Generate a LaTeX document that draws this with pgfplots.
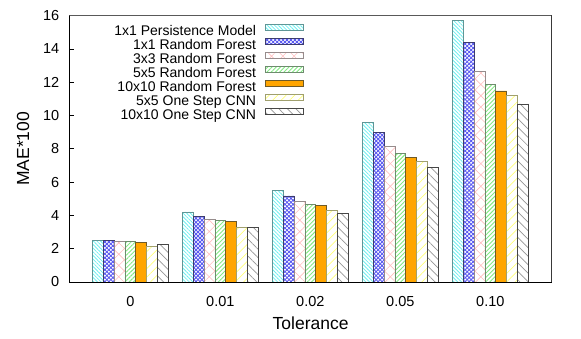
\documentclass[border=0pt]{standalone}
\usepackage{fontspec}
\setmainfont{Liberation Sans}
\usepackage{pgfplots}
\usepackage{pgfplotstable}
\pgfplotsset{compat=1.18}
\usetikzlibrary{patterns.meta}

\definecolor{cyanl}{RGB}{110,240,240}
\definecolor{cyanb}{RGB}{95,150,150}
\definecolor{bluel}{RGB}{90,90,240}
\definecolor{blueb}{RGB}{60,60,110}
\definecolor{pinkl}{RGB}{255,190,190}
\definecolor{pinkb}{RGB}{150,140,140}
\definecolor{greenl}{RGB}{130,235,130}
\definecolor{greenb}{RGB}{110,140,110}
\definecolor{orangef}{RGB}{255,165,0}
\definecolor{orangeb}{RGB}{110,90,40}
\definecolor{yellowl}{RGB}{255,255,120}
\definecolor{yellowb}{RGB}{160,160,110}
\definecolor{grayl}{RGB}{150,150,150}
\definecolor{grayb}{RGB}{70,70,70}

\pgfplotstableread{
x  p1    rf1   rf3   rf5   rf10  cnn5  cnn10
0  2.52  2.50  2.46  2.42  2.38  2.16  2.26
1  4.21  3.95  3.77  3.71  3.65  3.29  3.29
2  5.51  5.17  4.85  4.67  4.60  4.30  4.13
3  9.60  8.97  8.15  7.73  7.49  7.25  6.89
4  15.73 14.40 12.66 11.88 11.48 11.22 10.70
}\datatable

\pgfplotsset{
  mybar/.style={line width=0.8pt,
    legend image code/.code={\path (0pt,0pt); \draw[##1] (8.7pt,2pt) rectangle (46.7pt,8pt);}},
}

\begin{document}
\begin{tikzpicture}
\useasboundingbox (-69.5pt,-57pt) rectangle (511.5pt,282pt);
\begin{axis}[
  at={(0pt,0pt)}, anchor=south west, scale only axis,
  width=482.2pt, height=266.3pt,
  xmin=-0.676, xmax=4.682, ymin=0, ymax=16,
  ytick={0,2,...,16},
  xtick={0,1,2,3,4}, xticklabels={\mbox{0},\mbox{0.01},\mbox{0.02},\mbox{0.05},\mbox{0.10}},
  /pgf/number format/assume math mode=true,
  ybar, bar width=0.1206,
  tick align=inside, ytick pos=left, xtick pos=bottom,
  xtick style={draw=none},
  major tick length=5pt,
  axis line style={line width=0.8pt},
  tick style={line width=0.8pt, black},
  tick label style={font=\fontsize{14.5}{17}\selectfont},
  yticklabel style={anchor=east, inner sep=0pt, xshift=-10pt},
  xticklabel style={anchor=base, inner sep=0pt, yshift=-25pt},
  xlabel=Tolerance, ylabel={MAE*100},
  label style={font=\fontsize{17.5}{21}\selectfont},
  xlabel style={at={(axis description cs:0.5,-0.1802)}, anchor=base},
  ylabel style={at={(axis description cs:-0.0964,0.5)}, anchor=center},
  legend style={at={(rel axis cs:0.4857,0.968)}, anchor=north east,
    draw=none, fill=none, inner sep=0pt, row sep=0pt,
    font=\fontsize{14}{15}\selectfont,
    nodes={inner sep=0pt, text height=8pt, text depth=3.2pt}},
  legend plot pos=right, legend cell align=right,
]
\addplot[mybar, bar shift=-0.3618, draw=cyanb, pattern={Lines[angle=-45,distance=2.6pt,line width=0.8pt]}, pattern color=cyanl] table[x=x,y=p1] {\datatable};
\addlegendentry{1x1 Persistence Model}
\addplot[mybar, bar shift=-0.2412, draw=blueb, pattern={Hatch[angle=45,distance=2.8pt,line width=0.9pt]}, pattern color=bluel] table[x=x,y=rf1] {\datatable};
\addlegendentry{1x1 Random Forest}
\addplot[mybar, bar shift=-0.1206, draw=pinkb, pattern={Hatch[angle=45,distance=8pt,line width=0.6pt]}, pattern color=pinkl] table[x=x,y=rf3] {\datatable};
\addlegendentry{3x3 Random Forest}
\addplot[mybar, bar shift=0, draw=greenb, pattern={Lines[angle=45,distance=3pt,line width=0.9pt]}, pattern color=greenl] table[x=x,y=rf5] {\datatable};
\addlegendentry{5x5 Random Forest}
\addplot[mybar, bar shift=0.1206, draw=orangeb, fill=orangef] table[x=x,y=rf10] {\datatable};
\addlegendentry{10x10 Random Forest}
\addplot[mybar, bar shift=0.2412, draw=yellowb, pattern={Lines[angle=45,distance=6pt,line width=0.7pt]}, pattern color=yellowl] table[x=x,y=cnn5] {\datatable};
\addlegendentry{5x5 One Step CNN}
\addplot[mybar, bar shift=0.3618, draw=grayb, pattern={Lines[angle=-45,distance=6pt,line width=0.7pt]}, pattern color=grayl] table[x=x,y=cnn10] {\datatable};
\addlegendentry{10x10 One Step CNN}
\draw[line width=0.8pt, black!65] (rel axis cs:0,1) -- (rel axis cs:1,1) -- (rel axis cs:1,0);
\end{axis}
\end{tikzpicture}
\end{document}
